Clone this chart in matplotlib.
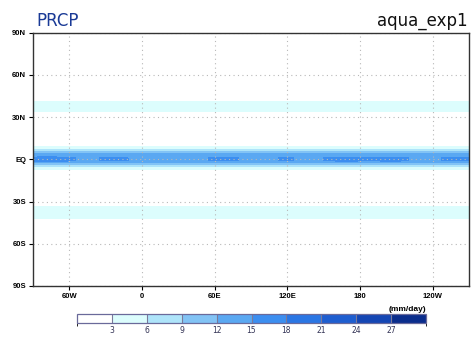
import matplotlib
matplotlib.use("Agg")
import matplotlib.pyplot as plt
from matplotlib.colors import ListedColormap, BoundaryNorm
import numpy as np

# zonal precipitation profile (mm/day)
lats = [-90, -50, -43, -40, -35, -32, -20, -10, -8, -7, -5.6, -4.2, -2.3, -1, 0,
        1, 2.5, 4, 6.1, 7.5, 9.4, 10.5, 20, 30, 33, 36, 40, 42, 50, 90]
profile = [0.3, 1.5, 2.6, 4.0, 4.0, 2.6, 1.5, 1.5, 2.0, 3.5, 6.2, 9.2, 12.3, 14.5, 14.5,
           14.5, 13.5, 11.8, 8.8, 5.8, 3.2, 2.0, 1.2, 1.5, 2.6, 4.0, 4.0, 2.6, 1.5, 0.3]

# peak value on the equator at each longitude
lons = [-90, -75, -60, -45, -30, -15, 0, 15, 30, 45, 60, 75, 90, 105, 120,
        135, 150, 165, 180, 195, 210, 225, 240, 255, 270]
eq_peak = [16, 16.5, 15.5, 14, 15.5, 15.3, 14, 14.5, 13.5, 14, 15.5, 15.5, 14,
           14.5, 15.5, 14, 15, 16, 15.5, 15.5, 16, 14.5, 14.5, 15.5, 15]

levels = [0, 3, 6, 9, 12, 15, 18, 21, 24, 27, 40]
colors = ['#ffffff', '#dcfdfd', '#aee4fa', '#82c3f5', '#5aa8f2', '#3c8ef0',
          '#2a76e4', '#1e5ed0', '#1446b4', '#0a2d8c']

xticks = [-60, 0, 60, 120, 180, 240]
xlabels = ['60W', '0', '60E', '120E', '180', '120W']
yticks = [-90, -60, -30, 0, 30, 60, 90]
ylabels = ['90S', '60S', '30S', 'EQ', '30N', '60N', '90N']

# build the grid: profile everywhere, equator core from eq_peak
grid = np.array([profile for _ in lons]).T
for lat in (-1, 0, 1):
    grid[lats.index(lat), :] = eq_peak

cmap = ListedColormap(colors)
norm = BoundaryNorm(levels, cmap.N)

fig = plt.figure(figsize=(4.71, 3.40), dpi=100)
ax = fig.add_axes([0.070, 0.159, 0.926, 0.745])
ax.contourf(lons, lats, grid, levels=levels, cmap=cmap, norm=norm)

ax.set_xlim(-90, 270)
ax.set_ylim(-90, 90)
ax.set_xticks(xticks)
ax.set_xticklabels(xlabels)
ax.set_yticks(yticks)
ax.set_yticklabels(ylabels)
for lab in ax.get_xticklabels() + ax.get_yticklabels():
    lab.set_fontsize(5.5)
    lab.set_fontweight('bold')
    lab.set_family('Liberation Sans')
ax.tick_params(length=3, width=0.8, pad=2)
ax.grid(True, color='#b8b8b8', linestyle=(0, (1, 3)), linewidth=0.8)
for s in ax.spines.values():
    s.set_color('#333333')
    s.set_linewidth(1.0)

fig.text(0.078, 0.925, 'PRCP', fontsize=12, color='#1a3a96', ha='left',
         va='baseline')
fig.text(0.993, 0.925, 'aqua_exp1', fontsize=12, color='#111111', ha='right',
         va='baseline')

# colorbar
cax = fig.add_axes([0.1635, 0.05, 0.741, 0.0265])
cb = fig.colorbar(plt.cm.ScalarMappable(norm=norm, cmap=cmap), cax=cax,
                  orientation='horizontal', ticks=levels[1:-1],
                  drawedges=True)
cb.dividers.set_color('#7a7a9a')
cb.dividers.set_linewidth(0.8)
cb.outline.set_edgecolor('#6a6a9a')
cb.outline.set_linewidth(0.9)
cax.tick_params(length=0, labelsize=5.5, pad=2, labelcolor='#333355')
fig.text(0.905, 0.085, '(mm/day)', fontsize=6, ha='right', va='baseline',
         fontweight='bold', family='Liberation Sans')

fig.savefig('out.png', dpi=100)
